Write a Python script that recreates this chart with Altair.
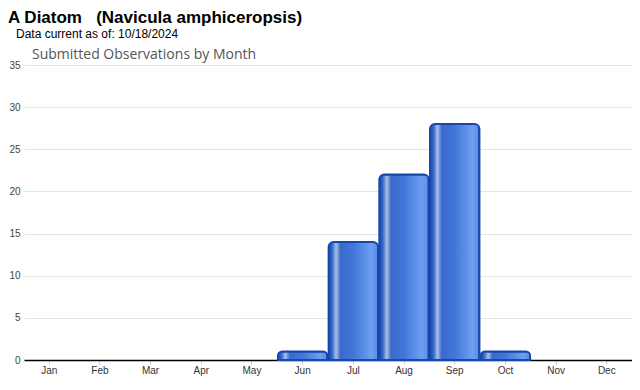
import altair as alt
import pandas as pd

months = ["Jan", "Feb", "Mar", "Apr", "May", "Jun", "Jul", "Aug", "Sep", "Oct", "Nov", "Dec"]
counts = [0, 0, 0, 0, 0, 1, 14, 22, 28, 1, 0, 0]

title_text = "A Diatom\u00a0\u00a0\u00a0(Navicula amphiceropsis)"
subtitle_text = "Data current as of: 10/18/2024"
chart_title = "Submitted Observations by Month"
y_ticks = [0, 5, 10, 15, 20, 25, 30, 35]

df = pd.DataFrame({"month": months, "count": counts})

grad = alt.Gradient(
    gradient="linear",
    x1=0, x2=1, y1=0, y2=0,
    stops=[
        alt.GradientStop(color="#1d4fb2", offset=0.0),
        alt.GradientStop(color="#3465c8", offset=0.07),
        alt.GradientStop(color="#aabfe4", offset=0.15),
        alt.GradientStop(color="#3a69cc", offset=0.24),
        alt.GradientStop(color="#4375d8", offset=0.5),
        alt.GradientStop(color="#6d9ff2", offset=0.86),
        alt.GradientStop(color="#5a8ae6", offset=1.0),
    ],
)

x_enc = alt.X(
    "month:N",
    sort=months,
    scale=alt.Scale(domain=months, paddingInner=0.025, paddingOuter=0.01),
    axis=alt.Axis(
        title=None, labelAngle=0, labelFont="Liberation Sans", labelFontSize=10,
        labelColor="#333333", domainColor="#000000", domainWidth=1.5,
        tickColor="#cccccc", tickSize=4, labelPadding=1, grid=False,
    ),
)

bars = alt.Chart(df).transform_filter("datum.count > 0").mark_bar(
    color=grad, stroke="#1548aa", strokeWidth=2, cornerRadiusTopLeft=5,
    cornerRadiusTopRight=5, cornerRadiusBottomLeft=0, cornerRadiusBottomRight=0,
).encode(
    x=x_enc,
    y=alt.Y(
        "count:Q",
        scale=alt.Scale(domain=[0, 35], nice=False),
        axis=alt.Axis(
            title=None, values=y_ticks, labelFont="Liberation Sans", labelFontSize=10,
            labelColor="#444444", domain=False, ticks=False, labelPadding=4,
            gridColor="#e4e4e4", gridWidth=1,
        ),
    ),
)

tdf = pd.DataFrame({"t": [title_text], "s": [subtitle_text], "c": [chart_title]})

t1 = alt.Chart(tdf).mark_text(
    align="left", baseline="alphabetic", font="Liberation Sans", fontSize=17,
    fontWeight="bold", color="#000000",
).encode(text="t:N", x=alt.value(-16), y=alt.value(-42))

t2 = alt.Chart(tdf).mark_text(
    align="left", baseline="alphabetic", font="Liberation Sans", fontSize=12,
    color="#000000",
).encode(text="s:N", x=alt.value(-8), y=alt.value(-27))

t3 = alt.Chart(tdf).mark_text(
    align="left", baseline="alphabetic", font="Open Sans", fontSize=14,
    color="#555555",
).encode(text="c:N", x=alt.value(8), y=alt.value(-6))

chart = alt.layer(bars, t1, t2, t3).properties(
    width=608, height=295,
    autosize=alt.AutoSizeParams(type="none"),
    padding={"left": 16, "top": 57, "right": 0, "bottom": 16},
).configure_view(stroke=None)

chart.save("out.html", embed_options={"renderer": "svg", "actions": False})
